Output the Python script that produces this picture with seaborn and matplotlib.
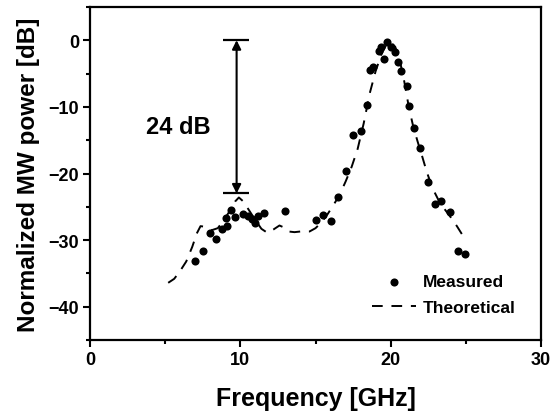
import matplotlib
matplotlib.use("Agg")
import matplotlib.pyplot as plt
import seaborn as sns
import pandas as pd
from matplotlib.ticker import MultipleLocator

# ---- data ----
meas_x = [7.0, 7.5, 8.0, 8.4, 8.75, 9.05, 9.1, 9.4, 9.65, 10.2, 10.5, 10.75, 11.0, 11.2, 11.6,
          13.0, 15.0, 15.5, 16.0, 16.5, 17.0, 17.5, 18.0, 18.4, 18.6, 18.85, 19.25, 19.35, 19.55,
          19.75, 20.05, 20.3, 20.5, 20.7, 21.05, 21.2, 21.55, 21.95, 22.45, 22.95, 23.35, 23.95,
          24.45, 24.95]
meas_y = [-33.2, -31.7, -28.9, -29.9, -28.3, -26.7, -27.9, -25.5, -26.5, -26.1, -26.4, -26.8, -27.5,
          -26.4, -25.9, -25.7, -27.0, -26.2, -27.2, -23.5, -19.6, -14.2, -13.6, -9.7, -4.5, -4.0,
          -1.6, -1.0, -2.8, -0.2, -1.0, -1.8, -3.3, -4.6, -6.9, -9.9, -13.2, -16.1, -21.3, -24.6,
          -24.1, -25.8, -31.6, -32.1]

theo_x = [5.2, 5.6, 6.0, 6.4, 6.8, 7.1, 7.35, 7.7, 8.1, 8.5, 8.9, 9.3, 9.65, 9.9, 10.2, 10.6,
          11.0, 11.4, 11.8, 12.2, 12.6, 12.9, 13.2, 13.6, 14.0, 14.6, 15.0, 15.4, 15.8, 16.2,
          16.6, 17.0, 17.4, 17.8, 18.2, 18.6, 19.0, 19.4, 19.7, 20.0, 20.3, 20.6, 20.9, 21.2,
          21.5, 21.8, 22.1, 22.4, 22.8, 23.2, 23.6, 24.0, 24.4, 24.9]
theo_y = [-36.4, -35.8, -34.6, -33.2, -31.0, -29.0, -27.9, -28.0, -28.5, -28.2, -27.0, -25.6,
          -24.2, -23.6, -24.2, -25.6, -27.0, -28.3, -28.9, -28.4, -27.8, -28.1, -28.7, -28.8,
          -28.7, -28.7, -28.2, -27.3, -26.1, -24.7, -23.2, -21.2, -19.0, -16.3, -12.5, -8.0,
          -4.6, -2.0, -0.7, -0.3, -1.0, -3.0, -6.2, -10.0, -13.0, -15.3, -17.5, -19.8, -22.3,
          -24.1, -25.4, -26.6, -27.9, -29.7]

span_x = 9.75
span_top = 0.0
span_bottom = -23.0
span_label = "24 dB"

x_ticks = [0, 10, 20, 30]
y_ticks = [0, -10, -20, -30, -40]

meas = pd.DataFrame({"f": meas_x, "p": meas_y})
theo = pd.DataFrame({"f": theo_x, "p": theo_y})

# ---- style ----
sns.set_theme(style="ticks")
plt.rcParams["font.family"] = ["Liberation Sans", "DejaVu Sans"]
plt.rcParams["font.weight"] = "bold"
for key in ["text.color", "axes.labelcolor", "xtick.color", "ytick.color", "axes.edgecolor"]:
    plt.rcParams[key] = "black"

fig = plt.figure(figsize=(5.59, 4.14), dpi=100)
ax = fig.add_axes([0.161, 0.176, 0.807, 0.805])

sns.lineplot(data=theo, x="f", y="p", ax=ax, color="black", linewidth=1.4,
             dashes=False, label="Theoretical", zorder=2)
ax.lines[-1].set_dashes((5.5, 4.5))
sns.scatterplot(data=meas, x="f", y="p", ax=ax, color="black", s=34, linewidth=0,
                label="Measured", zorder=3)

ax.set_xlim(0, 30)
ax.set_ylim(-45, 5)
ax.set_xticks(x_ticks)
ax.set_yticks(y_ticks)
ax.xaxis.set_minor_locator(MultipleLocator(5))
ax.yaxis.set_minor_locator(MultipleLocator(5))
ax.tick_params(which="major", direction="out", length=5, width=1.5, labelsize=13, pad=3,
               colors="black")
ax.tick_params(which="minor", direction="out", length=3, width=1.5, colors="black")
for lab in ax.get_xticklabels() + ax.get_yticklabels():
    lab.set_fontweight("bold")
for sp in ax.spines.values():
    sp.set_visible(True)
    sp.set_linewidth(1.6)
    sp.set_color("black")

ax.set_xlabel("Frequency [GHz]", fontsize=18, fontweight="bold", labelpad=13, color="black")
ax.set_ylabel("Normalized MW power [dB]", fontsize=17.5, fontweight="bold", labelpad=6,
              color="black")

# span annotation
ax.annotate("", xy=(span_x, span_bottom), xytext=(span_x, span_top),
            arrowprops=dict(arrowstyle="<|-|>", color="black", lw=1.5,
                            mutation_scale=13, shrinkA=0, shrinkB=0))
ax.hlines([span_top, span_bottom], span_x - 0.9, span_x + 0.85, color="black", lw=1.6)
ax.text(5.9, -12.9, span_label, fontsize=17, fontweight="bold", ha="center", va="center",
        color="black")

# legend
handles, labels = ax.get_legend_handles_labels()
order = [labels.index("Measured"), labels.index("Theoretical")]
leg = ax.legend([handles[i] for i in order], [labels[i] for i in order],
                loc="lower right", bbox_to_anchor=(0.97, 0.04), frameon=False,
                prop={"weight": "bold", "size": 12.5}, handlelength=2.5,
                handletextpad=0.4, labelspacing=0.6, borderpad=0.2)
for t in leg.get_texts():
    t.set_color("black")

fig.savefig("out.png", dpi=100, facecolor="white")
